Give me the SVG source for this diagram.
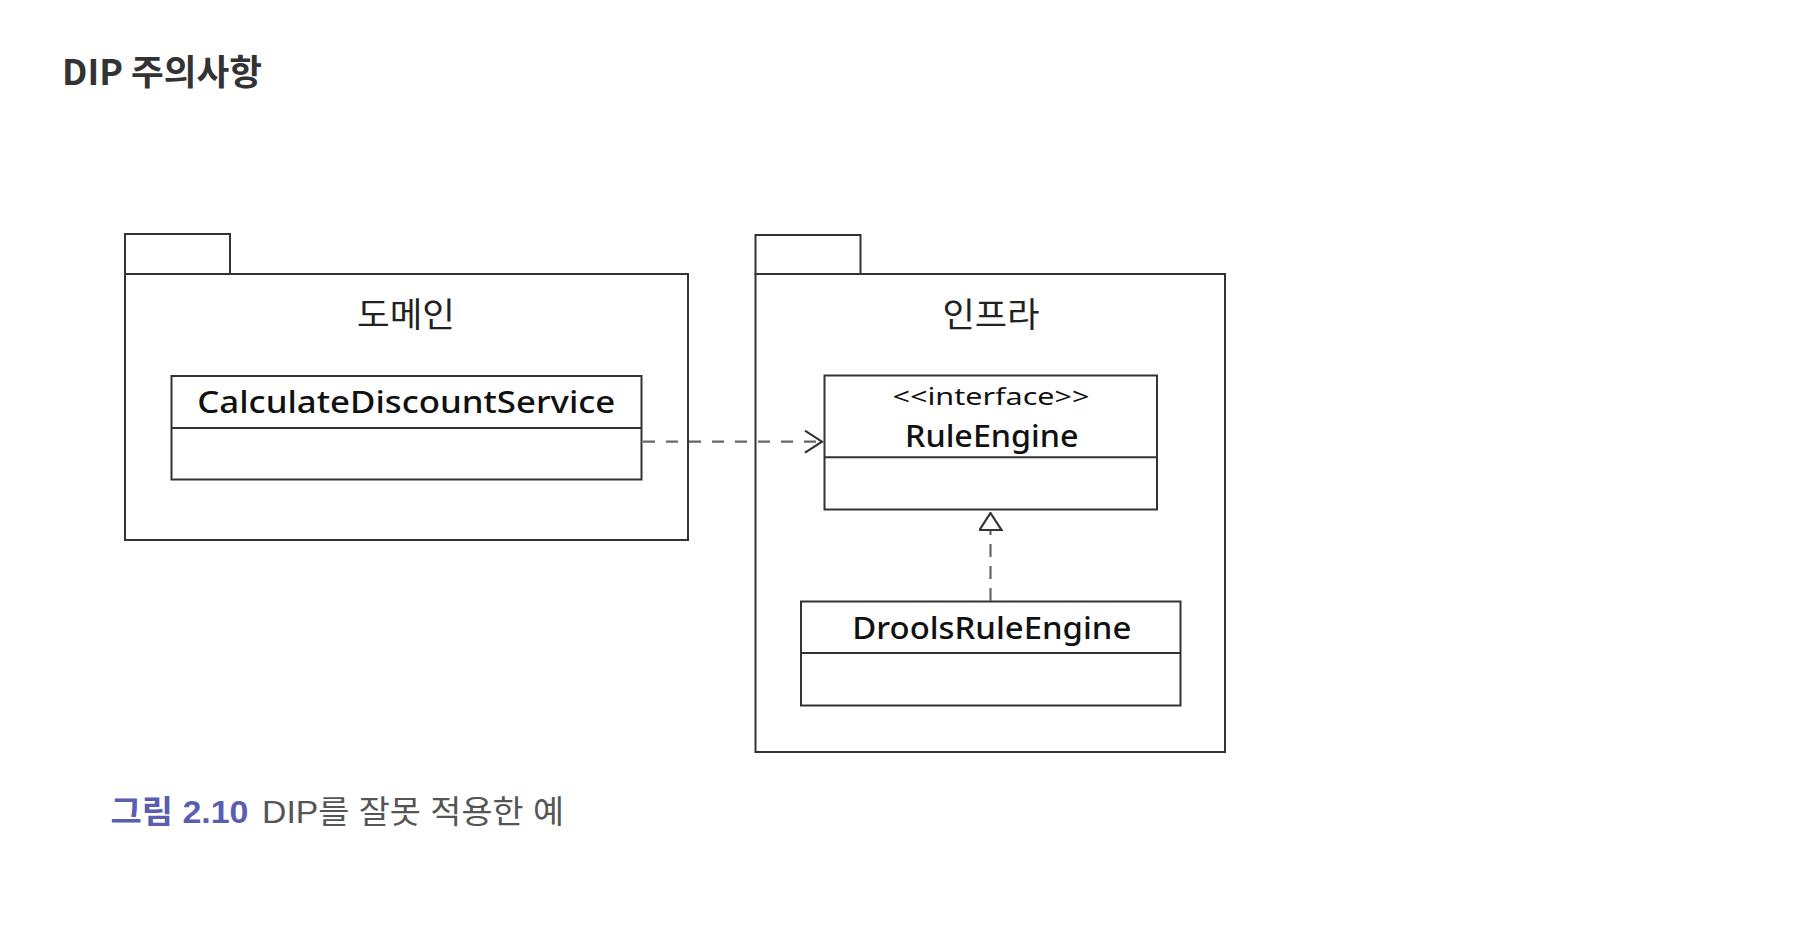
<svg xmlns="http://www.w3.org/2000/svg" width="1820" height="938" viewBox="0 0 1820 938">
<style>
.shape{fill:#fff;stroke:#333;stroke-width:2}
.line{fill:none;stroke:#666;stroke-width:2.2;stroke-dasharray:12 11}
.kr{font-family:"Noto Sans CJK KR",sans-serif;fill:#222;text-anchor:middle}
.en{font-family:"Noto Sans","Noto Sans CJK KR",sans-serif;fill:#111;text-anchor:middle}
</style>
<defs>
<marker id="open" markerWidth="20" markerHeight="26" refX="18" refY="12" orient="auto" markerUnits="userSpaceOnUse">
<path d="M1,1 L18,12 L1,23" fill="none" stroke="#333" stroke-width="2.2"/>
</marker>
<marker id="tri" markerWidth="26" markerHeight="20" refX="12" refY="18" orient="0" markerUnits="userSpaceOnUse">
<path d="M12,1 L23,18 L1,18 Z" fill="#fff" stroke="#333" stroke-width="2.2"/>
</marker>
</defs>
<rect width="1820" height="938" fill="#fff"/>
<text x="62" y="84.5" font-family="'Noto Sans CJK KR',sans-serif" font-weight="bold" font-size="35" fill="#333" textLength="200" lengthAdjust="spacingAndGlyphs">DIP 주의사항</text>

<g id="pkg-domain">
<rect class="shape" x="125" y="234" width="105" height="40"/>
<rect class="shape" x="125" y="274" width="563" height="266"/>
<text class="kr" x="406" y="327" font-size="34" textLength="98" lengthAdjust="spacingAndGlyphs">도메인</text>
</g>
<g id="pkg-infra">
<rect class="shape" x="755.5" y="235" width="105" height="39"/>
<rect class="shape" x="755.5" y="274" width="469.5" height="478"/>
<text class="kr" x="991" y="326.5" font-size="34" textLength="97" lengthAdjust="spacingAndGlyphs">인프라</text>
</g>
<g id="CalculateDiscountService">
<rect class="shape" x="171.5" y="376" width="470" height="103.5"/>
<line class="shape" x1="171.5" y1="428" x2="641.5" y2="428"/>
<text class="en" x="406.3" y="413.3" font-size="31" font-weight="500" textLength="418" lengthAdjust="spacingAndGlyphs">CalculateDiscountService</text>
</g>
<g id="RuleEngine">
<rect class="shape" x="824.5" y="375.5" width="332.5" height="134"/>
<line class="shape" x1="824.5" y1="457.2" x2="1157" y2="457.2"/>
<text class="en" x="991" y="404.8" font-size="24" textLength="197" lengthAdjust="spacingAndGlyphs">&lt;&lt;interface&gt;&gt;</text>
<text class="en" x="991.8" y="446.5" font-size="30" font-weight="500" textLength="173.6" lengthAdjust="spacingAndGlyphs">RuleEngine</text>
</g>
<g id="DroolsRuleEngine">
<rect class="shape" x="801" y="601.5" width="379.5" height="104"/>
<line class="shape" x1="801" y1="653" x2="1180.5" y2="653"/>
<text class="en" x="991.8" y="639" font-size="30" font-weight="500" textLength="279" lengthAdjust="spacingAndGlyphs">DroolsRuleEngine</text>
</g>
<g id="connectors">
<line class="line" x1="643" y1="441.7" x2="822" y2="441.7" marker-end="url(#open)"/>
<line class="line" x1="990.5" y1="601" x2="990.5" y2="530" marker-end="url(#tri)" style="stroke-dasharray:13 9"/>
</g>
<text x="110.5" y="822.5" font-family="'Liberation Sans','Noto Sans CJK KR',sans-serif" font-weight="bold" font-size="32" fill="#5a5eb0" textLength="138" lengthAdjust="spacingAndGlyphs">그림 2.10</text>
<text x="262" y="822.5" font-family="'Liberation Sans','Noto Sans CJK KR',sans-serif" font-size="32" fill="#555" textLength="302" lengthAdjust="spacingAndGlyphs">DIP를 잘못 적용한 예</text>
</svg>
